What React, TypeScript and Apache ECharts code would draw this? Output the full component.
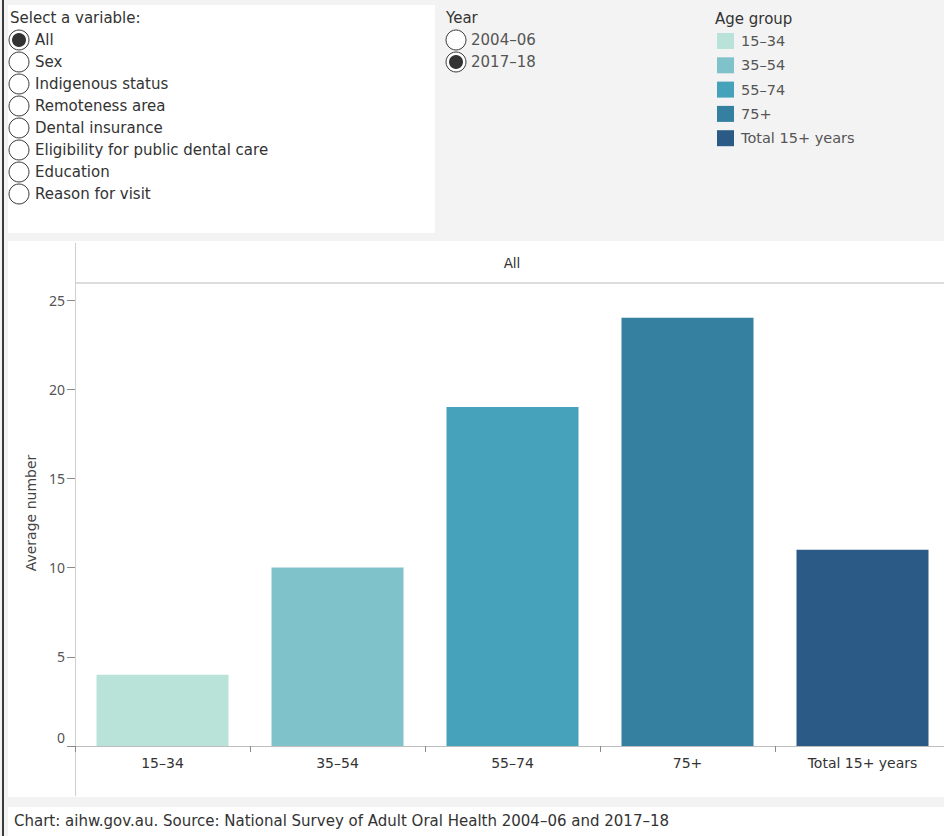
import React, { useEffect, useRef } from "react";
import * as echarts from "echarts";

const categories = ["15–34", "35–54", "55–74", "75+", "Total 15+ years"];
const values = [4, 10, 19, 24, 11];
const colors = ["#b9e3d8", "#80c2c9", "#46a2ba", "#357fa1", "#2c5a86"];
const variables = [
  "All",
  "Sex",
  "Indigenous status",
  "Remoteness area",
  "Dental insurance",
  "Eligibility for public dental care",
  "Education",
  "Reason for visit",
];
const selectedVariable = "All";
const years = ["2004–06", "2017–18"];
const selectedYear = "2017–18";
const yTicks = [0, 5, 10, 15, 20, 25];

const FONT = "'DejaVu Sans', 'Noto Sans', sans-serif";
const NFONT = "'Noto Sans', 'Open Sans', sans-serif";
const TXT = "#333333";
const GREY = "#555555";

function radio(cx: number, cy: number, on: boolean): any[] {
  const els: any[] = [
    {
      type: "circle",
      shape: { cx, cy, r: 10 },
      style: { fill: "#ffffff", stroke: "#3a3a3a", lineWidth: 1 },
    },
  ];
  if (on) {
    els.push({
      type: "circle",
      shape: { cx, cy, r: 7 },
      style: { fill: "#333333" },
    });
  }
  return els;
}

export default function App() {
  const ref = useRef<HTMLDivElement>(null);
  useEffect(() => {
    if (!ref.current) return;
    const chart = echarts.init(ref.current, null, { renderer: "svg" });
    const graphic: any[] = [];
    // background panels
    graphic.push({ type: "rect", shape: { x: 8, y: 5, width: 427, height: 228 }, style: { fill: "#ffffff" }, z: -10 });
    graphic.push({ type: "rect", shape: { x: 8, y: 241, width: 944, height: 556 }, style: { fill: "#ffffff" }, z: -10 });
    graphic.push({ type: "rect", shape: { x: 8, y: 807, width: 944, height: 30 }, style: { fill: "#ffffff" }, z: -10 });
    graphic.push({ type: "rect", shape: { x: 2, y: 0, width: 2, height: 836 }, style: { fill: "#3a3a3a" }, z: 10 });

    // variable selector
    graphic.push({
      type: "text", x: 10, y: 18,
      style: { text: "Select a variable:", fill: TXT, font: `15px ${FONT}`, verticalAlign: "middle" },
    });
    variables.forEach((v, i) => {
      const cy = 40 + i * 22;
      radio(19, cy, v === selectedVariable).forEach((e) => graphic.push(e));
      graphic.push({
        type: "text", x: 35, y: cy,
        style: { text: v, fill: TXT, font: `15px ${FONT}`, verticalAlign: "middle" },
      });
    });

    // year selector
    graphic.push({
      type: "text", x: 446, y: 18,
      style: { text: "Year", fill: TXT, font: `15px ${FONT}`, verticalAlign: "middle" },
    });
    years.forEach((y, i) => {
      const cy = 40 + i * 22;
      radio(456, cy, y === selectedYear).forEach((e) => graphic.push(e));
      graphic.push({
        type: "text", x: 471, y: cy,
        style: { text: y, fill: GREY, font: `15px ${FONT}`, verticalAlign: "middle" },
      });
    });

    // legend
    graphic.push({
      type: "text", x: 715, y: 19,
      style: { text: "Age group", fill: TXT, font: `15px ${FONT}`, verticalAlign: "middle" },
    });
    categories.forEach((c, i) => {
      const cy = 41 + i * 24.3;
      graphic.push({ type: "rect", shape: { x: 717, y: cy - 8, width: 17, height: 16 }, style: { fill: colors[i] } });
      graphic.push({
        type: "text", x: 741, y: cy,
        style: { text: c, fill: GREY, font: `14.5px ${FONT}`, verticalAlign: "middle" },
      });
    });

    // facet header and frame lines
    graphic.push({
      type: "text", x: 512, y: 263,
      style: { text: "All", fill: TXT, font: `13.5px ${FONT}`, align: "center", verticalAlign: "middle" },
    });
    graphic.push({ type: "line", shape: { x1: 75, y1: 283, x2: 952, y2: 283 }, style: { stroke: "#d0d0d0", lineWidth: 1.5 } });
    graphic.push({ type: "line", shape: { x1: 75.5, y1: 243, x2: 75.5, y2: 796 }, style: { stroke: "#cfcfcf", lineWidth: 1 } });

    // y-axis title
    graphic.push({
      type: "text", x: 31, y: 513, rotation: Math.PI / 2,
      style: { text: "Average number", fill: "#444", font: `14px ${FONT}`, align: "center", verticalAlign: "middle" },
    });

    // footer
    graphic.push({
      type: "text", x: 14, y: 821,
      style: {
        text: "Chart: aihw.gov.au. Source: National Survey of Adult Oral Health 2004–06 and 2017–18",
        fill: TXT, font: `15px ${FONT}`, verticalAlign: "middle",
      },
    });

    chart.setOption({
      animation: false,
      backgroundColor: "#f3f3f3",
      textStyle: { fontFamily: FONT },
      grid: { left: 75, top: 300, width: 875, height: 446, containLabel: false },
      xAxis: {
        type: "category",
        data: categories,
        axisLine: { show: true, lineStyle: { color: "#bdbdbd", width: 1 } },
        axisTick: { show: true, alignWithLabel: false, interval: 0, length: 6, lineStyle: { color: "#8a8a8a" } },
        axisLabel: { color: TXT, fontSize: 14, fontFamily: FONT, margin: 10, interval: 0 },
        splitLine: { show: false },
      },
      yAxis: {
        type: "value",
        min: yTicks[0],
        max: yTicks[yTicks.length - 1],
        interval: 5,
        axisLine: { show: false },
        axisTick: { show: true, length: 8, lineStyle: { color: "#8a8a8a" } },
        axisLabel: {
          color: GREY,
          fontSize: 14,
          fontFamily: NFONT,
          margin: 10,
          formatter: (v: number) => (v === yTicks[0] ? `{low|${v}}` : `${v}`),
          rich: { low: { fontSize: 14, fontFamily: NFONT, color: GREY, padding: [0, 0, 18, 0] } },
        },
        splitLine: { show: false },
      },
      series: [
        {
          type: "bar",
          barWidth: 132,
          data: values.map((v, i) => ({ value: v, itemStyle: { color: colors[i] } })),
        },
      ],
      graphic,
    });
    return () => chart.dispose();
  }, []);
  return (
    <div style={{ position: "fixed", left: 0, top: 0, width: 944, height: 836, overflow: "hidden" }}>
      <div ref={ref} style={{ width: 952, height: 836 }} />
    </div>
  );
}
